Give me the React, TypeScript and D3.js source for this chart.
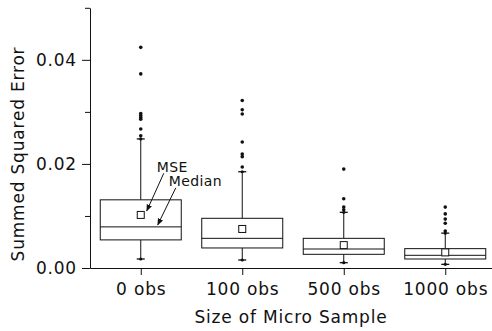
import React, { useEffect, useRef } from "react";
import { scaleLinear, scalePoint, axisLeft, axisBottom, select, format } from "d3";

const width = 492;
const height = 331;

// plot area edges (px)
const left = 90;
const right = 496;
const top = 7.8;
const bottom = 268;

const fontFamily = "'DejaVu Sans', Verdana, sans-serif";
const ink = "#111";
const labelStyle = { fontSize: "17px", fontFamily, letterSpacing: "0.8px" };

// Data
const categories = ["0 obs", "100 obs", "500 obs", "1000 obs"];
const q1 = [0.0054, 0.00385, 0.00263, 0.00173];
const medians = [0.0079, 0.0057, 0.00365, 0.00244];
const q3 = [0.0131, 0.00955, 0.0057, 0.00372];
const means = [0.0102, 0.0075, 0.0044, 0.003];
const whiskerLow = [0.00173, 0.00154, 0.00102, 0.0007];
const whiskerHigh = [0.0248, 0.0185, 0.0107, 0.0067];
const outliers = [
  [0.0424, 0.0373, 0.0297, 0.0293, 0.0289, 0.0286, 0.0267, 0.0254],
  [0.0322, 0.0304, 0.0296, 0.0242, 0.0219, 0.0214, 0.0194],
  [0.019, 0.0133, 0.0117, 0.0112],
  [0.0117, 0.0104, 0.0094, 0.0086, 0.0071],
];

const majorTicks = [0, 0.02, 0.04];
const minorTicks = [0.01, 0.03, 0.05];

const xAxisLabel = "Size of Micro Sample";
const yAxisLabel = "Summed Squared Error";

const yScale = scaleLinear().domain([0, 0.05]).range([bottom, top]);
const xScale = scalePoint<string>().domain(categories).range([left, right]).padding(0.5);

const boxWidth = 81;
const meanSize = 7;
const capWidth = 8;

const styleText = (sel: any) =>
  sel
    .attr("fill", ink)
    .style("font-size", labelStyle.fontSize)
    .style("font-family", fontFamily)
    .style("letter-spacing", labelStyle.letterSpacing);

const YAxis = () => {
  const ref = useRef<SVGGElement>(null);
  useEffect(() => {
    const g = select(ref.current);
    g.selectAll("*").remove();
    const major = g.append("g");
    major.call(
      axisLeft(yScale)
        .tickValues(majorTicks)
        .tickSize(8)
        .tickSizeOuter(0)
        .tickPadding(5)
        .tickFormat(format(".2f"))
    );
    const minor = g.append("g");
    minor.call(axisLeft(yScale).tickValues(minorTicks).tickSize(5).tickSizeOuter(0).tickFormat(() => ""));
    minor.select(".domain").remove();
    g.selectAll("line").attr("stroke", ink);
    g.selectAll(".domain").attr("stroke", ink);
    styleText(g.selectAll("text"));
  }, []);
  return <g ref={ref} transform={`translate(${left},0)`} />;
};

const XAxis = () => {
  const ref = useRef<SVGGElement>(null);
  useEffect(() => {
    const g = select(ref.current);
    g.call(axisBottom(xScale).tickSize(7).tickSizeOuter(0).tickPadding(8));
    g.selectAll("line").attr("stroke", ink);
    g.selectAll(".domain").attr("stroke", ink);
    styleText(g.selectAll("text"));
  }, []);
  return <g ref={ref} transform={`translate(0,${bottom})`} />;
};

const Box = ({ i }: { i: number }) => {
  const cx = xScale(categories[i]) as number;
  const x0 = cx - boxWidth / 2;
  return (
    <g stroke={ink} fill="none">
      <line x1={cx} x2={cx} y1={yScale(whiskerHigh[i])} y2={yScale(q3[i])} />
      <line x1={cx} x2={cx} y1={yScale(q1[i])} y2={yScale(whiskerLow[i])} />
      {[whiskerHigh[i], whiskerLow[i]].map((v, k) => (
        <g key={k}>
          <line x1={cx - capWidth / 2} x2={cx + capWidth / 2} y1={yScale(v)} y2={yScale(v)} strokeWidth={1.3} />
          <circle cx={cx} cy={yScale(v)} r={1.6} fill={ink} stroke="none" />
        </g>
      ))}
      <rect x={x0} width={boxWidth} y={yScale(q3[i])} height={yScale(q1[i]) - yScale(q3[i])} fill="#fff" />
      <line x1={x0} x2={x0 + boxWidth} y1={yScale(medians[i])} y2={yScale(medians[i])} />
      <rect
        x={cx - meanSize / 2}
        y={yScale(means[i]) - meanSize / 2}
        width={meanSize}
        height={meanSize}
        fill="#fff"
      />
      {outliers[i].map((v, k) => (
        <circle key={k} cx={cx} cy={yScale(v)} r={1.8} fill={ink} stroke="none" />
      ))}
    </g>
  );
};

// annotation arrows for the first box
const Annotations = () => {
  const cx = xScale(categories[0]) as number;
  const items = [
    { text: "MSE", tx: cx + 16, ty: yScale(0.0185), sx: cx + 23, sy: yScale(0.0182), ex: cx + 6, ey: yScale(means[0]) - 4 },
    { text: "Median", tx: cx + 28, ty: yScale(0.0158), sx: cx + 35, sy: yScale(0.0154), ex: cx + 17, ey: yScale(medians[0]) - 2 },
  ];
  return (
    <g>
      <defs>
        <marker id="arrow" viewBox="0 0 10 10" refX="9" refY="5" markerWidth="7" markerHeight="7" orient="auto">
          <path d="M0,1 L10,5 L0,9 z" fill={ink} />
        </marker>
      </defs>
      {items.map((d) => (
        <g key={d.text}>
          <line x1={d.sx} y1={d.sy} x2={d.ex} y2={d.ey} stroke={ink} strokeWidth={1} markerEnd="url(#arrow)" />
          <text x={d.tx} y={d.ty} fill={ink} style={{ fontSize: "14px", fontFamily, letterSpacing: "0.4px" }}>
            {d.text}
          </text>
        </g>
      ))}
    </g>
  );
};

export default function App() {
  return (
    <svg width={width} height={height} style={{ position: "absolute", left: 0, top: 0, background: "#fff" }}>
      {categories.map((c, i) => (
        <Box key={c} i={i} />
      ))}
      <Annotations />
      <YAxis />
      <XAxis />
      <text x={(left + 492) / 2} y={323} textAnchor="middle" fill={ink} style={labelStyle}>
        {xAxisLabel}
      </text>
      <text transform={`translate(24,154) rotate(-90)`} textAnchor="middle" fill={ink} style={labelStyle}>
        {yAxisLabel}
      </text>
    </svg>
  );
}
